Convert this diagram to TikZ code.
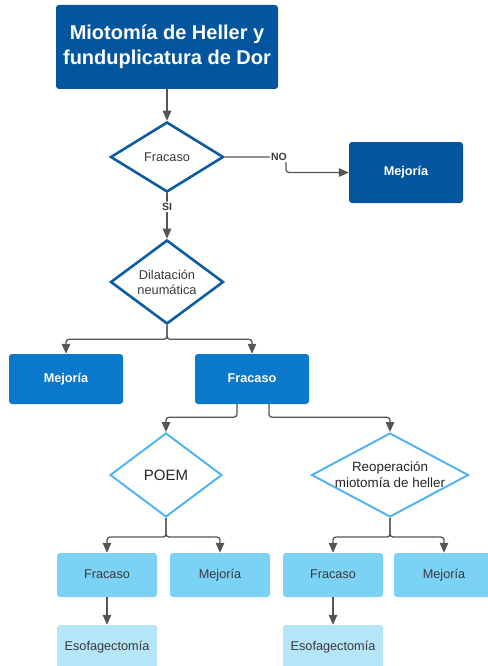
\documentclass[tikz,border=0pt]{standalone}
\usepackage{fontspec}
\setmainfont{Liberation Sans}
\usetikzlibrary{shapes.geometric}
\usetikzlibrary{arrows.meta}
\usetikzlibrary{calc}

\definecolor{azulosc}{HTML}{03559F}
\definecolor{azulmed}{HTML}{0A79CC}
\definecolor{azulcla}{HTML}{7CD2F5}
\definecolor{azulpal}{HTML}{B5E5F8}
\definecolor{bordeosc}{HTML}{0E5CA4}
\definecolor{bordecla}{HTML}{52B4F3}
\definecolor{linea}{HTML}{555555}
\definecolor{texto}{HTML}{3A3A3A}

\begin{document}
\begin{tikzpicture}[x=1pt, y=-1pt,
    caja/.style={rectangle, rounded corners=3pt, align=center, inner sep=0pt},
    fija/.style={text height=1.5ex, text depth=.25ex},
    oscura/.style={caja, fill=azulosc, text=white, font=\fontsize{12.7}{15}\selectfont\bfseries},
    media/.style={caja, fija, fill=azulmed, text=white, font=\fontsize{12.7}{15}\selectfont\bfseries,
      minimum width=114pt, minimum height=50pt},
    clara/.style={caja, fija, fill=azulcla, text=texto, font=\fontsize{12.7}{15}\selectfont,
      minimum width=100pt, minimum height=44pt},
    palida/.style={clara, fill=azulpal},
    rombo/.style={diamond, draw=bordeosc, line width=2.6pt, fill=white, inner sep=0pt},
    rombocla/.style={rombo, draw=bordecla, line width=2pt},
    etq/.style={fill=white, text=texto, inner sep=1.5pt, font=\fontsize{10.5}{12}\selectfont\bfseries},
    flecha/.style={draw=linea, line width=1.3pt, rounded corners=3pt,
      -{Triangle[length=10pt, width=8.5pt]}}]

        \useasboundingbox (0,0) rectangle (487,666);

        % first treatment and its decision
        \node[oscura, minimum width=222pt, minimum height=84pt,
              font=\fontsize{20}{25}\selectfont\bfseries] (inicio) at (167,47)
              {Miotomía de Heller y\\funduplicatura de Dor};

        \node[rombo, minimum width=113pt, minimum height=70pt,
              label={[text=texto, font=\fontsize{12.7}{15}\selectfont]center:{Fracaso}}]
              (fracaso1) at (167,157) {};
        \node[oscura, fija, minimum width=114pt, minimum height=61pt] (mejoria1) at (406,172.5) {Mejoría};

        \node[rombo, minimum width=113pt, minimum height=84pt,
              label={[text=texto, align=center, font=\fontsize{12.8}{15.3}\selectfont]center:{Dilatación\\neumática}}]
              (dilatacion) at (167,282) {};

        % outcome of the dilatation
        \node[media] (mejoria2) at (66,379) {Mejoría};
        \node[media] (fracaso2) at (252,379) {Fracaso};

        \node[rombocla, minimum width=112pt, minimum height=84pt,
              label={[text=black!85, font=\fontsize{15}{18}\selectfont]center:{POEM}}]
              (poem) at (166,475) {};
        \node[rombocla, minimum width=157pt, minimum height=84pt,
              label={[text=black!85, align=center, font=\fontsize{13.4}{16}\selectfont]center:{Reoperación\\miotomía de heller}}]
              (reoperacion) at (390,475) {};

        % last row
        \node[clara] (fracaso3) at (107,575) {Fracaso};
        \node[clara] (mejoria3) at (220,575) {Mejoría};
        \node[clara] (fracaso4) at (333,575) {Fracaso};
        \node[clara] (mejoria4) at (444,575) {Mejoría};

        \node[palida] (esofag3) at (107,647) {Esofagectomía};
        \node[palida] (esofag4) at (333,647) {Esofagectomía};

        % connectors
        \draw[flecha] (inicio.south) -- (fracaso1.north);
        \coordinate (codo) at (286,172.5);
        \draw[flecha] (fracaso1.east) -| (codo) -- (mejoria1.west);
        \node[etq] (no) at (279,157) {NO};
        \draw[flecha] (fracaso1.south) -- node[etq, pos=0.3] (si) {SI} (dilatacion.north);

        \draw[flecha] (dilatacion.south) -- ++(0,14) -| (mejoria2.north);
        \draw[flecha] (dilatacion.south) -- ++(0,14) -| (fracaso2.north);

        \draw[flecha] ($(fracaso2.south)+(-15,0)$) -- ++(0,13) -| (poem.north);
        \draw[flecha] ($(fracaso2.south)+(17,0)$) -- ++(0,13) -| (reoperacion.north);

        \draw[flecha] (poem.south) -- ++(0,19) -| (fracaso3.north);
        \draw[flecha] (poem.south) -- ++(0,19) -| (mejoria3.north);
        \draw[flecha] (reoperacion.south) -- ++(0,19) -| (fracaso4.north);
        \draw[flecha] (reoperacion.south) -- ++(0,19) -| (mejoria4.north);

        \foreach \j in {3,4} {
          \draw[flecha] (fracaso\j.south) -- (esofag\j.north);
        }

\end{tikzpicture}
\end{document}
